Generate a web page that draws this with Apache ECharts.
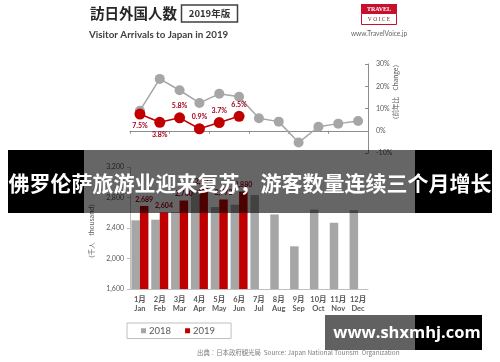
<!DOCTYPE html>
<html>
<head>
<meta charset="utf-8">
<script src="https://cdn.jsdelivr.net/npm/echarts@6/dist/echarts.min.js"></script>
<style>
html,body{margin:0;padding:0;background:#fff;}
#c{width:500px;height:362px;}
</style>
</head>
<body>
<div id="c"></div>
<script>
const monthsJa = ['1月','2月','3月','4月','5月','6月','7月','8月','9月','10月','11月','12月'];
const monthsEn = ['Jan','Feb','Mar','Apr','May','Jun','Jul','Aug','Sep','Oct','Nov','Dec'];
const visitors2018 = [2501, 2509, 2608, 2901, 2675, 2705, 2832, 2578, 2160, 2641, 2469, 2633];
const visitors2019 = [2689, 2604, 2760, 2927, 2773, 2880];
const change2018 = [9.0, 23.3, 18.2, 12.5, 16.6, 15.3, 5.6, 4.1, -5.3, 1.8, 3.2, 4.4];
const change2019 = [7.5, 3.8, 5.8, 0.9, 3.7, 6.5];
const changeTicks = [-10, 0, 10, 20, 30];
const visitorTicks = [1600, 2000, 2400, 2800, 3200];

const GRAY = '#a6a6a6', RED = '#c00000', LABRED = '#a3001b', AX = '#595959';
const FONT = 'Lato, "Noto Sans CJK JP", sans-serif';

const chart = echarts.init(document.getElementById('c'), null, {renderer: 'canvas'});
const fmtNum = v => Number(v).toLocaleString('en-US');

chart.setOption({
  backgroundColor: '#ffffff',
  animation: false,
  textStyle: {fontFamily: FONT},
  grid: [
    {left: 130, width: 238, top: 64, height: 89},
    {left: 130, width: 238, top: 167, height: 122}
  ],
  xAxis: [
    {
      gridIndex: 0, type: 'category', data: monthsJa,
      axisLine: {onZero: true, lineStyle: {color: '#8c8c8c', width: 1}},
      axisTick: {show: true, length: 3, lineStyle: {color: '#8c8c8c'}},
      axisLabel: {show: false}
    },
    {
      gridIndex: 1, type: 'category', data: monthsJa,
      axisLine: {lineStyle: {color: '#bfbfbf', width: 1}},
      axisTick: {show: false},
      axisLabel: {
        interval: 0, hideOverlap: false,
        color: AX, fontSize: 7.5, fontWeight: 'bold', lineHeight: 9, margin: 6,
        formatter: (v, i) => v + '\n' + monthsEn[i]
      }
    }
  ],
  yAxis: [
    {
      gridIndex: 0, type: 'value', position: 'right',
      min: changeTicks[0], max: changeTicks[changeTicks.length - 1], interval: 10,
      splitLine: {show: false},
      axisLine: {show: true, lineStyle: {color: '#8c8c8c'}},
      axisTick: {show: true, inside: true, length: 3, lineStyle: {color: '#8c8c8c'}},
      axisLabel: {color: AX, fontSize: 7, margin: 8, formatter: v => v + '%'}
    },
    {
      gridIndex: 1, type: 'value',
      min: visitorTicks[0], max: visitorTicks[visitorTicks.length - 1], interval: 400,
      splitLine: {show: false},
      axisLine: {show: true, lineStyle: {color: '#bfbfbf'}},
      axisTick: {show: true, length: 3, lineStyle: {color: '#bfbfbf'}},
      axisLabel: {color: AX, fontSize: 7, margin: 6, formatter: v => fmtNum(v)}
    }
  ],
  legend: {
    data: ['2018', '2019'],
    left: 127, top: 323,
    borderColor: '#bfbfbf', borderWidth: 1, borderRadius: 0,
    padding: [3, 16, 3, 14],
    itemWidth: 5, itemHeight: 5, itemGap: 14, icon: 'rect',
    textStyle: {color: AX, fontSize: 9.5, padding: [0, 0, 0, -2]}
  },
  series: [
    {
      name: '2018前年比', type: 'line', xAxisIndex: 0, yAxisIndex: 0,
      data: change2018, symbol: 'circle', symbolSize: 10,
      itemStyle: {color: GRAY}, lineStyle: {color: GRAY, width: 1.5}, z: 3
    },
    {
      name: '2019前年比', type: 'line', xAxisIndex: 0, yAxisIndex: 0,
      data: change2019.map((v, i) => ({value: v, label: {position: i < 2 ? 'bottom' : 'top'}})),
      symbol: 'circle', symbolSize: 11,
      itemStyle: {color: RED}, lineStyle: {color: RED, width: 1.5}, z: 4,
      label: {show: true, color: LABRED, fontSize: 7, fontWeight: 'bold', distance: 3,
        formatter: p => p.value.toFixed(1) + '%'}
    },
    {
      name: '2018', type: 'bar', xAxisIndex: 1, yAxisIndex: 1,
      data: visitors2018, barWidth: 8.5, barGap: '0%',
      itemStyle: {color: GRAY}
    },
    {
      name: '2019', type: 'bar', xAxisIndex: 1, yAxisIndex: 1,
      data: visitors2019, barWidth: 8.5, barGap: '0%',
      itemStyle: {color: RED},
      label: {show: true, position: 'top', distance: 3, color: LABRED, fontSize: 7, fontWeight: 'bold',
        formatter: p => fmtNum(p.value)}
    }
  ],
  graphic: [
    {type: 'text', left: 90, top: 6, style: {text: '訪日外国人数', font: 'bold 14.5px "Noto Sans CJK JP"', fill: '#262626'}},
    {type: 'rect', shape: {x: 181.5, y: 5, width: 56, height: 17}, style: {fill: '#fff', stroke: '#404040', lineWidth: 1.5}},
    {type: 'text', x: 209.5, y: 13.5, style: {text: '2019年版', font: 'bold 9.5px "Noto Sans CJK JP"', fill: '#333', align: 'center', verticalAlign: 'middle'}},
    {type: 'text', x: 89, y: 34.5, style: {text: 'Visitor Arrivals to Japan in 2019', font: 'bold 9.8px Lato', fill: '#404040', verticalAlign: 'middle'}},
    {type: 'rect', shape: {x: 361, y: 4, width: 36, height: 9.5}, style: {fill: '#c8102e'}},
    {type: 'text', x: 379, y: 9, style: {text: 'TRAVEL', font: 'bold 6px "Liberation Serif"', fill: '#fff', align: 'center', verticalAlign: 'middle'}},
    {type: 'rect', shape: {x: 361.5, y: 13.5, width: 35, height: 11}, style: {fill: '#fff', stroke: '#c8102e', lineWidth: 1}},
    {type: 'text', x: 379, y: 19.3, style: {text: 'V O I C E', font: '5.5px "Liberation Serif"', fill: '#7a1a1a', align: 'center', verticalAlign: 'middle'}},
    {type: 'text', x: 379, y: 34, style: {text: 'www.TravelVoice.jp', font: '6.6px Lato', fill: '#666', align: 'center', verticalAlign: 'middle'}},
    {type: 'text', x: 396, y: 92, rotation: Math.PI / 2, style: {text: '（前年比　Change）', font: '6.5px "Noto Sans CJK JP"', fill: AX, align: 'center', verticalAlign: 'middle'}},
    {type: 'text', x: 92, y: 231, rotation: Math.PI / 2, style: {text: '（千人　thousand）', font: '6.5px "Noto Sans CJK JP"', fill: AX, align: 'center', verticalAlign: 'middle'}},
    {type: 'text', x: 197, y: 353, style: {text: '出典：日本政府観光局  Source: Japan National Tourism  Organization', font: '6.4px "Noto Sans CJK JP"', fill: '#7f7f7f', verticalAlign: 'middle'}},
    {type: 'rect', z: 100, shape: {x: 8, y: 150, width: 76, height: 63}, style: {fill: '#000'}},
    {type: 'rect', z: 100, shape: {x: 84, y: 150, width: 331, height: 63}, style: {fill: 'rgba(0,0,0,0.6)'}},
    {type: 'rect', z: 100, shape: {x: 415, y: 150, width: 77, height: 63}, style: {fill: '#000'}},
    {type: 'text', z: 101, x: 250, y: 183, style: {text: '佛罗伦萨旅游业迎来复苏，游客数量连续三个月增长', font: 'bold 21px "Noto Sans CJK SC"', fill: '#fff', align: 'center', verticalAlign: 'middle'}},
    {type: 'rect', z: 100, shape: {x: 325, y: 315, width: 90, height: 35}, style: {fill: 'rgba(0,0,0,0.62)'}},
    {type: 'rect', z: 100, shape: {x: 415, y: 315, width: 67, height: 35}, style: {fill: '#000'}},
    {type: 'text', z: 101, x: 407, y: 333, style: {text: 'www.shxmhj.com', font: 'bold 16.5px "Open Sans"', fill: '#fff', align: 'center', verticalAlign: 'middle'}}
  ]
});
</script>
</body>
</html>
